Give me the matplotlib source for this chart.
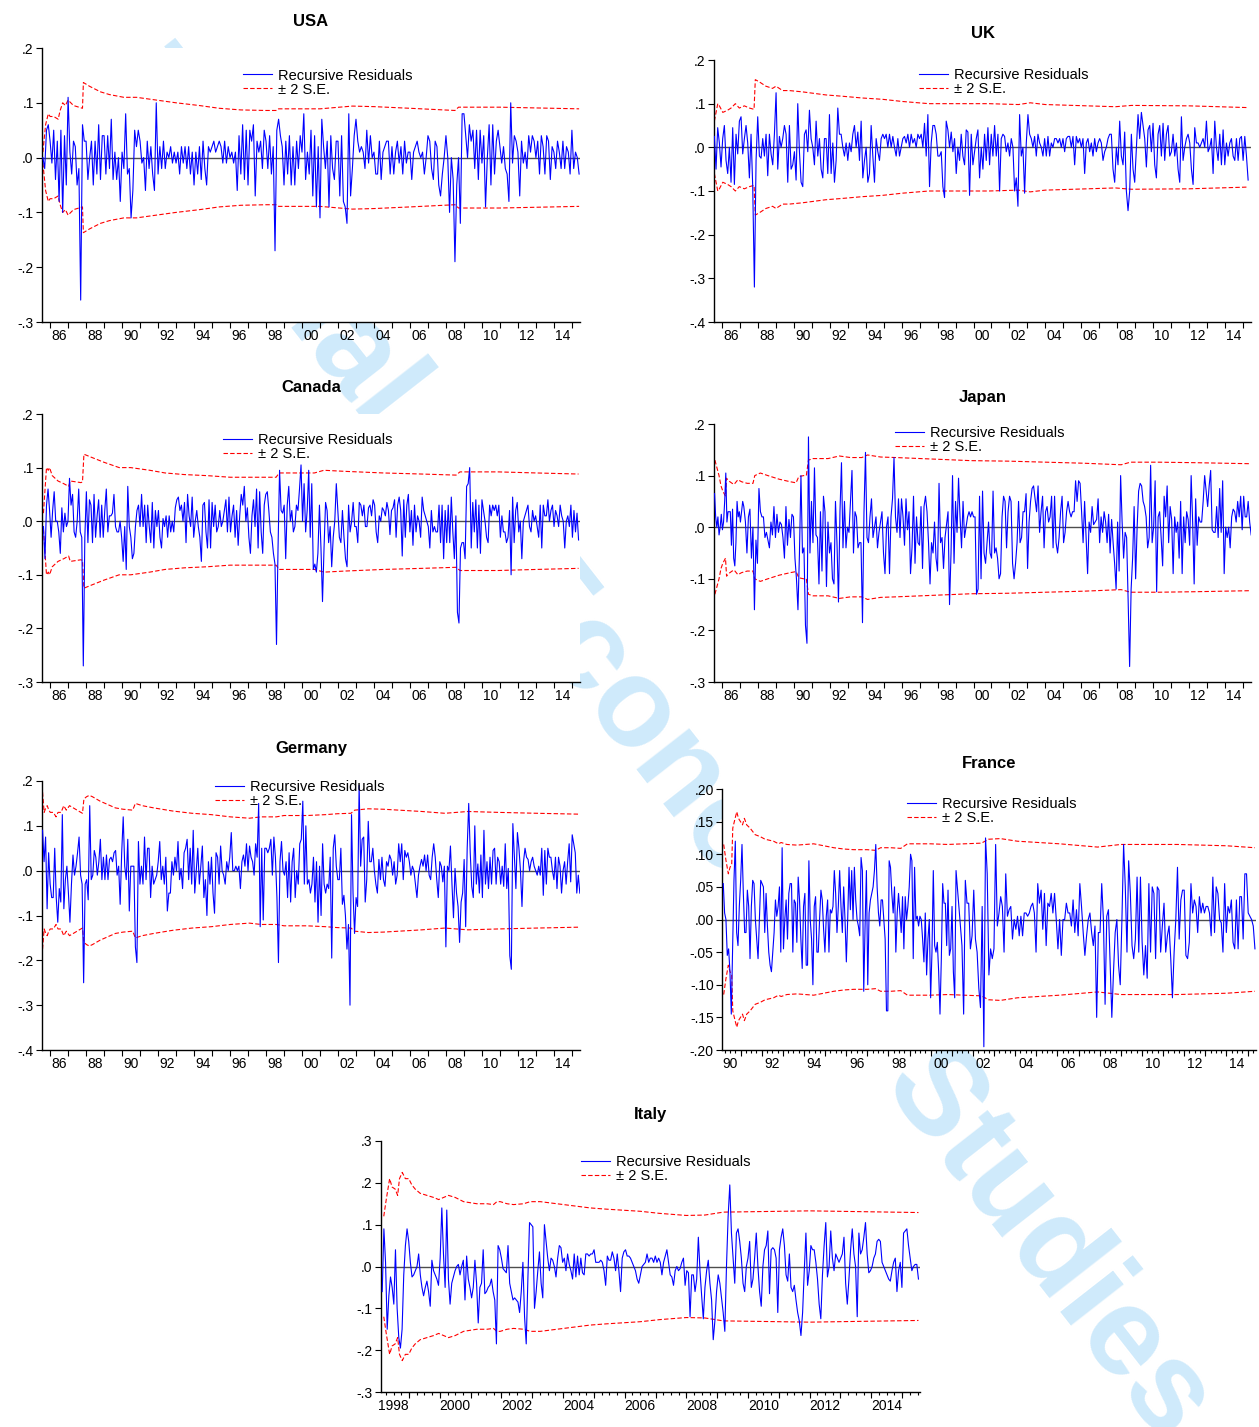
import numpy as np
import matplotlib.pyplot as plt
from matplotlib.lines import Line2D

plt.rcParams['font.family'] = ['Liberation Sans', 'DejaVu Sans']

# ---------------------------------------------------------------------------
# data: recursive residuals and upper +2 S.E. band, both in hundredths
# (lower band is the mirror image). Residuals are equally spaced in time
# between the two dates of each span.
# ---------------------------------------------------------------------------
usa_span = (1985.6, 2015.4)
usa_resid = [
    0, -2, 5, 6,
    3, -1, 5, -4, 3, -8, 5, -10, 4, -5,      # 1986
    11, 1, -3, 3, 2, -5, -2, -26, 6, 3,      # 1987
    3, -4, 0, 3, -5, 3, -3, 6, -4, 4,
    4, -3, 4, -2, 7, -4, 1, -4, 0, -8,
    1, -2, 8, -3, -2, -11, -6, 5, 2, 5,      # 1990
    3, -1, 0, -6, 3, -2, 2, -3, -6, 10,
    -3, 2, -2, 3, -2, 1, 0, 2, -1, 1,
    -1, 1, -3, 2, -1, 2, -2, 2, -3, 1,
    -5, 1, -3, 2, -4, 3, -2, -5, 2, 1,
    2, 3, 1, 2, 3, 2, -1, 3, -1, 2,          # 1995
    0, 1, -1, 1, -6, 4, -3, 6, -4, 5,
    -5, 5, 3, 6, -7, 3, 1, 3, -2, 5,
    3, -2, 4, -3, 2, -17, 5, 7, 4, 2,
    -5, 3, -3, 4, -5, 2, -5, 3, -2, 4,
    1, 8, -4, 1, -3, 5, -7, 4, -9, 2,        # 2000
    -11, 7, 2, -2, 3, -9, 4, -2, -4, 3,
    3, -7, 4, -8, -9, -12, 8, -7, -2, 4,
    7, 3, 1, 2, 1, -2, 5, -1, 4, 0,
    1, -3, -3, 3, -4, 1, 2, 3, 3, -3,
    2, -3, 1, 3, -1, 2, -3, 3, -1, 1,        # 2005
    1, -4, 1, 2, 3, 1, 0, 1, -3, 0,
    4, 3, -2, -4, 3, 2, -5, -7, -3, 0,
    4, 0, -10, 0, -4, -19, -5, 0, -12, 8,
    8, 4, 0, 6, 3, 5, -2, 5, -4, 5,
    -1, 4, -9, 0, 6, -5, 6, -3, 3, 5,        # 2010
    2, -1, 2, -2, -3, -8, 10, -1, 4, 3,
    1, -7, 3, -1, 1, -2, 4, 1, 4, 3,
    0, 3, -3, 4, 2, -3, 4, 3, -4, 2,
    1, -2, 3, 1, -2, 3, -2, 2, 1, -3,
    5, -2, 1, 0, -3,
]
usa_band_t = [1985.6, 1985.75, 1985.9, 1986.0, 1986.2, 1986.45, 1986.55, 1986.7,
              1986.85, 1987.0, 1987.3, 1987.8, 1987.85, 1988.2, 1988.8, 1989.3,
              1990.1, 1990.8, 1991.9, 1993.0, 1994.3, 1995.4, 1996.6, 1998.0,
              1998.6, 1998.7, 2001.0, 2002.8, 2004.0, 2006.0, 2008.5, 2008.7,
              2011.0, 2015.4]
usa_band = [1, 6, 8, 7.5, 7.5, 7, 8.5, 10, 9.5, 10.5, 9.5, 9, 13.7, 13, 12, 11.5,
            11, 11, 10.5, 10, 9.5, 9, 8.7, 8.6, 8.6, 8.9, 8.9, 9.4, 9.3, 9, 8.6,
            9.2, 9.2, 8.9]

uk_span = (1985.57, 2015.29)
uk_resid = [
    2.5, -5, 4.5, 1, -4.5, 2, 5, -3, -6, 0, -8, 4.5, -8.5, 3, -1.5, 6, 7, -1.5,
    2, 5, 1, -7, 3, -9, -32, -3, 7, -2, -2.5, 2, -2, 3, -6.5, 3, -1.5, -4, 3,
    12.5, -5, 2.5, 0, 2, 5, 3, -8, 5, -5, -4, -1, -7.5, 10, -1, -8, -9, 3, 4,
    -1, 8.5, 2, 0, -4, 6, -2, 2, -5, -7, 2, 2, -6, 7.5, -6, 1, -8, -3, 9, 3, 3,
    0, -2, 1, -3, 1, -1, 3, 5, 0, 3.5, -3, 6, -7, -3, 0, -8, -6, 5, -2, -8, 2,
    -1, -3, 2, 3, 2, 3, 0, 3, 0, 2.5, 0, -2, 2, -2, 0, 2, 2.5, 1, 3, 0, 3, 1,
    2, 0, 3, 2, 3, 0, 5.5, -2, 7.5, -9, 1, 5, 5, 3, -2, -2, -1, -9, -11.5, 6,
    4, 0, 3.5, -1, 2, -6, 0, -3, 3, -2, -4, 4, 3.5, -11, 3, -4, -1, 2, 4, -7,
    0, -5, 3, -3,
    4.5, -4, 3, -2, 5, -2, 3, -10, 2, 3, 2.5, -1, 1, -2, 2, 0, -10, -7, -13.5,
    7.5, -2, 0, -10.5, 1, 7.5, 3, 2, 0, 2.5, -2, 3, 1, 0, -2, 2, -2, 2.5, -2,
    1, 0, 2, 2, 1, 2, 0, 2, -1, 2, 2.5, 2.5, 0, 2.5, -4, 2.5, 1, 2, 0, 2, -6,
    1, 2, -1, 1, -2, 2, -1, 1, 2, 1, -3, -1, 0, 2, 3, 3, -5, -8, 0, -4, 6, -2,
    -4, 3.5, -10, -14.5, -10, 3, -5, -8, 0, 7.5, 2, 8, 5, 2, -4.5, 4, 5, -1,
    5.5, -4, -7, 3, 5, -2, 5.5, -3, 3, 5, -2, -1, 3, -2, 1, -5, -8, 7, -3, 0,
    2, 3, 1, -5, -8.5, 4.5, 1, 1, 0, 1, 2, 0, 6, -1, 0, 2, -6, 6, 0, -3, 3, -4,
    4, -4, 1, -2, 1, 2, -2, -3, 2, -3, 2, 2.5, -3, 2.5, -2, -7.5,
]
uk_band_t = [1985.57, 1985.76, 1985.85, 1986.04, 1986.31, 1986.5, 1986.74, 1986.96,
             1987.24, 1987.52, 1987.78, 1987.85, 1988.07, 1988.44, 1988.81, 1989.0,
             1989.37, 1989.74, 1990.48, 1991.78, 1992.7, 1993.8, 1994.93, 1996.04,
             1997.52, 1998.81, 2000.85, 2002.5, 2003.16, 2004.0, 2007.9, 2008.8,
             2012.0, 2015.29]
uk_band = [6, 10, 9.5, 8, 8.5, 9, 10, 9, 9.5, 9, 8.7, 15.5, 15, 14, 13.5, 14, 13,
           13, 12.7, 12, 11.7, 11.3, 11, 10.5, 10, 10, 10, 9.8, 10.2, 9.8, 9.3, 9.6,
           9.5, 9.1]

canada_span = (1985.63, 2015.37)
canada_resid = [
    -1, -7, 3, 6, 2, -3, 2, 5.5, 0, 0, -2, -6, 2.5, -2, 1.5, -1, 0, 8, 3, 5, -2,
    -3, 0, 6, -2, -3, -27, -3, 5.5, -4, 4, 3, -4, 5, -3, 1, 4, -3, 3, -3, 2, 6,
    -2, 1, 1, 1.5, 5, -1, -2, -2, 0, -3, -7.5, -1, -9, 6.5, -1, -3, -7, -6, -1,
    2, 3, -1, 5, -1, 3, -4, 3, -1, -4, 3.5, -5, 2, -1, 2, -3, -5, 0.5, -1, 1,
    -3, 1, -2, 0, -2, 2.5, 4, 4.5, 2, 3, 0, 3.5, -4, 5, 1, -1, 4.5, -3, 0, 2,
    -1, -3, -7.5, 3, 3.5, -2, -5, 4, -5, 3.5, -1, 3, -2, -1, 2, -1, 0, 2, 4, -2,
    4.5, -2, 1, 3, -3, 2, -4.5, 1, 5, 3, 6.5, 0, 2.5, -3, -6, 1, 4, -1, 6, -5,
    5.5, -2, -6, 3, 5, 5.5, 2, -2, -3, -6, -8, -23, -5, 9.5, 2, 1.5, 3, -7, 3,
    6.5, 0, 2, -2, -1, 3, 2, 6, 10.5, 0, 7, -2, 2, 9.5, -3, 7, -9, -8, -9.5, -6,
    3, -5, -15, -5, 3.5, 2, -4, -1, -8.5, -3, 0, 7, 2, -3, -4, 2, -3, -7, -8.5,
    3, -2, 0, 3.5, -1, -1, -4, 3.5, 3, 1, 3, -1, -1, 2.5, 3, 1, 4, 3, -2, -4, 1,
    0, 2.5, 2, 1, 3.5, 2, -2.5, 2, 2.5, 4, -3, 3, 4.5, 2, -6.5, 4, -3, 3, 5, -2,
    2, -4.5, 3, -2, 1, 0, -3, 4.5, 2, 1, 0, -1, -5, 2, -2, -1, -2, -2, 3, -4, 3,
    -7, 2, -4, 3, -4, 4.5, -2, -7, 1, -17, -19, -5, -4, -4, -7, 6.5, 7, 10, -5,
    3.5, -2, 4, -5, 3, -6, 4, 2, 0, -3, -4, 3, 1, 3, 2, 3, 1, 3, -3, 1, -2, -2,
    -4, -3, 2, -10, 4.5, -4, 2, 3.5, -2, 0, -7, 0, 1, 2, 3, -1, -2, 2, 0, 1, -1,
    -3, 3, -5, 3, 1, 1, 4, 0, 2, 3, -1, 2, 1, -1, 3, 1, 0, -5, 0, 1, -1, 3, -3,
    2, -2, 1.5, -3.5,
]
canada_band_t = [1985.63, 1985.8, 1985.9, 1985.97, 1986.12, 1986.44, 1986.76, 1987.03,
                 1987.12, 1987.71, 1987.80, 1987.88, 1988.24, 1988.99, 1989.84,
                 1990.48, 1991.54, 1992.39, 1993.46, 1994.73, 1996.01, 1997.29,
                 1998.56, 1998.73, 2000.27, 2000.69, 2001.22, 2002.39, 2004.52,
                 2006.65, 2008.56, 2008.78, 2010.9, 2013.03, 2015.37]
canada_band = [1.5, 10, 9.5, 10, 8.5, 7.5, 7, 6.5, 7.5, 7.2, 7.3, 12.5, 12, 11, 10,
               10, 9.5, 9, 8.7, 8.5, 8.2, 8.2, 8.2, 9, 9, 9, 9.5, 9.3, 9, 8.8, 8.6,
               9.2, 9.2, 9, 8.8]

japan_span_a = (1985.58, 1987.21)
japan_resid_a = [6.5, 2, 0, 2, -1.5, 0, 2.5, -0.5, 1, 5, 10.5, 1, 3, 3, 3, -3.5,
                 3.5, -6, -7.5, -3, 5, 2, 3, 1, 3, 5, 4]
japan_span_b = (1987.30, 2015.46)
japan_resid_b = [
    1, -5, 2, 3.5, -6, 0, -16, -2.5, -7, 7.5, 3, 2, 2, -2, -1, -2.5, -4, 1, -1.5,
    4, -2, 2.5, -1, 1, 0.5, -2, -6, 4, -3.5, 1.5, -2, 2.5, 2, -6, -10, -16, -5,
    10, -5, -4, -19, -22.5, 17.5, -5, 5, -3, 11.5, -1.5, -2, -11, 3, -8.5, 6, 3,
    -11.5, 1, -5, -3, -10, -11, 5, -3, -14.5, 3, 12.5, -4, 5, -4, 0, -1, 5, 11,
    -5, 3, 2, -4, -3, -3, -18.5, 3, 14.5, -2, -3, 2, 5.5, -2, 0, 2, -4, -1, 1,
    3, -5, -9, 0, 2, -9, 2, 5.5, 13.5, 2, -1, 5.5, -2, 5.5, 2, -3.5, 5.5, -0.5,
    3, -9, -4, 6, -7, 2, -3, -3.5, 4, -8, 4, 6, 3, -3, -11, -3, -5, 1, -6, -8.5,
    8.5, -3, -2, -8, -2, 0.5, 3, -15, -5, 10, -7, 5, -1, 9.5, 2, -4, 5, -2, 0,
    2, 3, 2, 3, 2, 2, -13, -12, 6, -10, 7, -5, -7, -3, 1, -5, -6, 7, -5, -4, -6,
    -10, -9, 2, 6, 5, -4, 3, 6, 5, -7, -10, -7, -3, 5, -3, -2, 3, 3, 6.5, -8, 1,
    5, 7.5, 8, 5.5, 3, 8, -1, 3, 6, -4, 3, 4, 1, 2, 6, -4, 6, -3, -5, -2, 3, 6,
    -3, -1, 3, 5, 3, 2, 3, 3, 9, 5, 9, 8.5, 3, -3, 5, -2, -9, 1, -1, 4, 0.5, 1,
    1.5, 5.5, -3, 2, -1, 3, 1, -3, 2.5, -5, 1.5, -3, -7, -12, 1, -8.5, 10, 1,
    -6, -1, -2, -14, -27, -12, -6, 4, -10, 0, 7, 8.5, 8, 5, 4, 2, -4, -2, 12,
    -3, 0, 9, -12.5, 2, 3, -2, -7.5, 6, 2, 8, -3, 4, 1.5, -9, 2, -1, 1, -6, 5,
    -9, 2, -3, 3, 1.5, -3.5, 10, 1, -11, 5.5, -3.5, 2, 1, 1, 5, 10, 7, 4, 8, 11,
    -0.5, -1, -1, 4, -2, 7.5, -1, 9, -9, 0, -2, 0, -4, 2, 3.5, 3, 1, 5, 2, 6,
    -0.5, 6, 2, 2, 5, 1, -1.5,
]
japan_band_t = [1985.6, 1985.83, 1985.94, 1986.04, 1986.19, 1986.25, 1986.36, 1986.56,
                1986.67, 1986.88, 1987.09, 1987.40, 1987.72, 1987.82, 1988.13,
                1988.55, 1989.18, 1989.81, 1990.12, 1990.27, 1990.54, 1990.69,
                1990.81, 1991.06, 1991.90, 1992.53, 1993.15, 1993.78, 1994.10,
                1994.83, 1995.67, 1997.76, 1999.85, 2001.94, 2004.03, 2006.13,
                2008.22, 2008.74, 2010.31, 2012.40, 2015.46]
japan_band = [13, 10, 8, 7, 6, 9.5, 9, 8.5, 8.3, 9.2, 8.8, 8.5, 8.5, 10, 10.5, 10,
              9.3, 8.8, 8.6, 9.8, 10, 10, 13, 13.3, 13.3, 13.8, 13.5, 13.5, 14,
              13.6, 13.5, 13.2, 12.9, 12.8, 12.6, 12.4, 12.1, 12.6, 12.6, 12.5, 12.3]

germany_span = (1985.58, 2015.44)
germany_resid = [
    9, 2, 7.5, -8.5, 4, -3, -6, -6, 5, -6, -11.5, -4, -7, 12.5, -8.5, -2, 1, -5,
    -11.5, -3, 3.5, -1, 1, 4, 7.5, -1, -3, -25, -3, -2, -6.5, 14.5, -2, -1, 4.5,
    3, -1, 2, 7, -2, 3, -2, 3.5, -2, 2.5, 3, 2, 4, 4.5, -1, 1, -7.5, 4, 12, 1,
    -2, 7, -9, 1, 1, 1, -17, -20.5, 6.5, -3, 1, -3, 7.5, -2, 5, 5, -6, 1, -3, -2,
    -1, 2, 6.5, -2, 1, -3, 3, -9, -5, -5, 2, -1, 3, 0, 6.5, -2, 0.5, -4, 4, 5, 7,
    -2, 5, -3, 9, -5, 0, 5, -3, 1, 5.5, -6, -2, -10, 2, -3, 3, -5, -9.5, 4, 3,
    -3, 5.5, 0, -1, -3, 2, 0, 3, 8.5, 0, 0, 1, 0, 1, -4, 2, 3.5, 1, 6, 0, 5.5, 3,
    2, -1, 6, 3, 15, -12.5, 5, -11, 5, 5, 4, 5, 7, -1, 7.5, 3, -6, -20.5, 2, 6.5,
    0, -1, 2, -6, 4, -7, 2, 5, -6, 0, -3, 6, 7, 15.5, -3, 10, -3, -2, -5, -3, 3,
    -7, 2, -11.5, 1, -10, 6, -3, -5, -3, -4, 3, -19.5, 5, 8, 1, -2, -2, 5, -7.5,
    -5.5, -10, -17.5, -12, -30, 12.5, -5, -14, -6, -8, 19, 1, 7, 7.5, -7, -2, 11,
    2, 2, 5, 0, -3, -5, 2.5, -2, 3, -2, -3.5, 2, 1, 3.5, 2.5, -1, 2, -3, -1, 6,
    2, 6, -2, 4.5, 3, 4, 2, -1, 1, 0, -3, -6, -1, 1, 2.5, 1, 3.5, 0, 3.5, -1, -2,
    3, 6, 3, -2, -6, 2, 1, -2.5, 1, -17, 1, 0, 5.5, -3, -10.5, 0.5, -5, -8, -16,
    -7, -5, 2.5, -12.5, 5, 15, 4, -3.5, -6, 10, -3, 1.5, -5, 3.5, -6, 9, -3, 2,
    -4, 3, -3, 4.5, 5, -3, 3, 2, -3, 1, -3.5, 6, -4, 0.5, -19, -22, 10.5, 3, -4,
    8.5, 5, 0, -8, 2, 5, 3, 2.5, 0, 2, 3, 1, 0, -1, 1, -1, 5, -5.5, 4.5, -3, 5,
    3, 3, 0, -2, 3, -4, 3, 1, -5, 0, 2, -3, 2, 6, -2.5, 8, 6, 4, -5, -1, -5,
]
germany_band_t = [1985.58, 1985.67, 1985.76, 1985.84, 1985.93, 1986.01, 1986.18,
                  1986.33, 1986.44, 1986.61, 1986.76, 1986.9, 1987.08, 1987.29,
                  1987.5, 1987.71, 1987.8, 1987.88, 1988.03, 1988.18, 1988.35,
                  1988.78, 1989.63, 1990.06, 1990.59, 1990.74, 1991.12, 1991.76,
                  1992.82, 1993.89, 1994.95, 1996.02, 1997.08, 1997.72, 1998.57,
                  1999.0, 2000.27, 2001.33, 2001.97, 2002.72, 2002.93, 2003.68,
                  2004.53, 2006.66, 2007.94, 2009.22, 2010.92, 2013.05, 2015.44]
germany_band = [17.5, 13, 14, 14.5, 13.5, 13, 13, 12, 13, 13, 14.5, 13.5, 14.5, 14,
                13.5, 13, 12.8, 16, 16.5, 16.8, 16.5, 15.5, 14, 13.7, 13.5, 15,
                14.5, 14, 13.3, 12.8, 12.5, 12, 11.7, 12, 12, 12.3, 12.3, 12.5, 12.7,
                12.8, 13.5, 13.8, 13.7, 13.2, 12.8, 13.2, 13, 12.8, 12.6]

france_span_a = (1990.18, 2001.2)
france_resid_a = [
    5.5, 1, 0, -5.5, -4.5, -8, -14.5, -4, 6, 12, -2, -4, 2, 6, 11.5, 4, -2, -2,
    4.5, 2, -6, 2, 6, 5.5, 0, -3, -6, 0, 6, 5.5, 5, -2, 4, -1, -5, -7, -8, -5,
    -2, 3, 0.5, 2, 5, -5, 11, -4.5, 0, 3, -3, 4, 5.5, 5.5, -5, 3, 2.5, -3.5,
    6.5, 3, -3, -7.5, 2, 4, -7, -7, 9, 0, -3, -10, 2, 3.5, -5, -5, 0, 4.5, 3,
    -1.5, -5, 0.5, 3, -5, 1.5, 1, 2, 7.5, 4, -2, 2, 7.5, 2, -2, 5, 0, -6.5, 0,
    8, 1.5, 7.5, 0, 8, 3, 0, -1, -2.5, 9.5, 7.5, -11, -1, 7.5, -10, 1, 3, 4, 5,
    7.5, 11.5, 5, 1, -1, 3, 3, 0, -3, -14, -14, 9, 8, 4, 1, 5, -5, 1, 4, 1, -2,
    3.5, -4.5, 3.5, 0, 2, 5, 10, 9, -6, 8, 0, 0.5, -1, 0.5, 0, -3, -6.5, 1, -8.5,
    -3, 0, -12, -5, 7.5, -4, -5, -3.5, -8, -14.5, -6, 5.5, 2.5, 2.5, -4, 4.5,
    -5.5, -4.5, 2, -8, -12, 7.5,
]
france_span_b = (2001.48, 2015.35)
france_resid_b = [
    -4, -14.5, 6, 2.5, 2.5, -4.5, -2.5, 4.5, -3, -5, -10.5, -13.5, 2, -19.5,
    12.5, 7, -8.5, -4.5, -6, -4.5, 11.5, -1, 1, 3.5, 2, -5, 7, 0.5, 1.5, 2, -3,
    0, -1.5, 0.5, -2.5, 0.5, -2.5, 1, 1, 0.5, 1, 2, 2.5, 1, -5, 5.5, 2.5, 4.5,
    -1.5, 4, -4, 2.5, 2, 4, 1, 4, 0, -4.5, 0, -5.5, 0, 0, 2.5, 1, 1, -1, 3, -2,
    1.5, -2.5, 5.5, 2, -2, -5.5, -2.5, 0, 1, -2, -4, -1, -15, -2, -2, 5.5, 0,
    -13, 0.5, 1.5, -7, -15, -8, -2, 0, -7, -10, 0, 11.5, 5, -5, 9, 4, -4, -6,
    -3, 6.5, -5, 6.5, -3.5, -8.5, -4, -9, 5.5, -5, 5, 4, -6, 5, 4.5, -5, -1,
    2.5, -5, -2.5, -1, -6, -12, -5, 0, 8, -3, 3, 4.5, 4.5, -5.5, -6, -3.5, 5.5,
    1, 3, 2, -2, 3.5, 1, 2.5, 1, 2, 2, 1, -2.5, 6.5, -2, 5, 4, 0, -0.5, -5, 5.5,
    -2, 2, 1, 3, -3.5, -4.5, 3, -4.5, 3.5, 3.5, -3, 7, 7, 1, 0.5, 0, -1, -4.5,
]
france_band_t = [1990.2, 1990.31, 1990.42, 1990.5, 1990.58, 1990.63, 1990.74, 1990.82,
                 1990.9, 1991.09, 1991.18, 1991.29, 1991.45, 1991.69, 1991.93,
                 1992.16, 1992.56, 1992.80, 1992.92, 1993.19, 1993.67, 1994.46,
                 1994.94, 1995.41, 1995.89, 1996.36, 1996.99, 1997.39, 1997.63,
                 1998.11, 1998.58, 1998.90, 1999.99, 2000.80, 2001.59, 2002.4,
                 2002.74, 2003.3, 2004.1, 2006.1, 2007.9, 2009.0, 2011.7, 2014.0,
                 2015.35]
france_band = [11.5, 9, 7, 8, 8.5, 14, 15.5, 16.5, 15.5, 14.5, 15.5, 14.5, 14, 13,
               12.7, 12.3, 12, 11.6, 11.8, 11.5, 11.4, 11.6, 11.3, 11, 10.8, 10.7,
               10.7, 10.6, 11, 11, 10.9, 11.6, 11.6, 11.5, 11.6, 11.7, 12.3, 12.4,
               12.0, 11.6, 11.1, 11.5, 11.5, 11.3, 11.0]

italy_span = (1998.13, 2015.53)
italy_resid = [
    -6, 9, 1, -15, -7, -2.5, -5, -9, 4, -10, -17, -19.5, -15, -2, 5, 9, 6, 1,
    -2.5, -2, -1, 0, 3, -2, -5, -7, -5, -3.5, -6, -9.5, 1.5, -1, -2, -3, -4.5, 2,
    14, 3, -5, 13.5, -3, -9, -4, -2.5, -1, 0, 0.5, -2, 0, 1.5, -8, 2.5, -3, -5,
    -7.5, -5, 1.5, -4, -13.5, -5, -4, 4, -6.5, -6, -5, -4.5, -3, -6, -8, -18.5,
    5, 4, 2, -0.5, -1, -1.5, 5, -4, -6, -8, -7.5, -8, -8.5, -11, -6, 1, -12,
    -18.5, -3, 10.5, 10, 9.5, -10, -6, -1, 3.5, -4, -7.5, 10, 6, 2, -1, 2, 1.5,
    0, -2.5, 2, 5, 4.5, 1, 2, -1, 3, 0.5, -1, -3, 3, -2.5, 2.5, -2, 2, -1.5, -2,
    3, 3, 2.5, 3, 3, 4, 1, 1, 1, 1.5, 1, -1, -4.5, 2.5, 1.5, 1.5, 3.5, 2, -1, 3,
    -1, -6, 2, 3.5, 4, 2.5, 2.5, 2, 1, 0, -1, -3, -4, -2, 0, 0.5, 1, 3, 1, 2, 2,
    1, 2.5, 1, 2, 1, -2,
    1, 2.5, 4, 1, -2, -2.5, -4.5, -1, 0, -1, -0.5, 1, 2, -4.5, -1, -1.5, -12, -2,
    -2, -6, -3, 7, -1, -7, -12.5, -5, -1, 1.5, -4, -8, -17.5, -13, -6, -2, -4,
    -7.5, -11, -15.5, 0, 12, 19.5, 8, 2, -4, 8, 9, 6, 2, -4, -6, 0, 2, 6, -5,
    -3, 2, 8, 0, -6, -9.5, 0, 4, 5, 8.5, -6.5, 4, 4.5, 4, 2, -11, 4, 7, 9, 5,
    -2, -3.5, 3, -5, -6, -4.5, -8, -11, -13, -16.5, -11, -1, 8, -4.5, -1, 5, 4,
    4, 1, -3, -9, -12.5, -2, 5, 10.5, -2.5, 0, 8.5, 2, -1, 3, 2, 1, 2, 3, 7, -4,
    -9, -3, 4, 9, 3, 0, -12, 8, 3, 4, 7, 10.5, 3, -1.5, -1, 0, 2, 3, 6, 6.5, 6,
    1, 0, -1, -2, -3, -3.5, -1, 1, 2, -6, -1, 1, -5, 8, 8.5, 9, 5, 2, -1, 0, 0.5,
    0.5, -3,
]
italy_band_t = [1998.18, 1998.26, 1998.37, 1998.45, 1998.55, 1998.63, 1998.69,
                1998.78, 1998.88, 1998.99, 1999.09, 1999.2, 1999.36, 1999.58,
                1999.8, 1999.96, 2000.12, 2000.28, 2000.5, 2000.77, 2001.2, 2001.53,
                2001.74, 2001.85, 2001.96, 2002.18, 2002.39, 2002.72, 2002.93,
                2003.26, 2003.8, 2004.34, 2004.88, 2005.42, 2006.5, 2007.13, 2008.0,
                2008.6, 2009.2, 2012.0, 2015.53]
italy_band = [12, 16, 21, 19, 18.5, 17, 21, 22.5, 21, 21, 19.5, 18.5, 17.5, 17,
              16.5, 16, 16.5, 17, 16.5, 15.5, 15, 15, 14.8, 15.5, 15.5, 15, 14.8,
              15, 15.5, 15.5, 15, 14.5, 14, 13.7, 13.2, 12.7, 12.2, 12.3, 13.0,
              13.3, 12.9]

# tick labels
ticks_1dec_3 = [-.3, -.2, -.1, 0, .1, .2]
labels_1dec_3 = ['-.3', '-.2', '-.1', '.0', '.1', '.2']
ticks_1dec_4 = [-.4, -.3, -.2, -.1, 0, .1, .2]
labels_1dec_4 = ['-.4', '-.3', '-.2', '-.1', '.0', '.1', '.2']
ticks_france = [-.20, -.15, -.10, -.05, 0, .05, .10, .15, .20]
labels_france = ['-.20', '-.15', '-.10', '-.05', '.00', '.05', '.10', '.15', '.20']
ticks_italy = [-.3, -.2, -.1, 0, .1, .2, .3]
labels_italy = ['-.3', '-.2', '-.1', '.0', '.1', '.2', '.3']

years_86 = list(range(1986, 2015, 2))
years_90 = list(range(1990, 2015, 2))
years_98 = list(range(1998, 2015, 2))
short_86 = ['86', '88', '90', '92', '94', '96', '98', '00', '02', '04', '06', '08',
            '10', '12', '14']
short_90 = ['90', '92', '94', '96', '98', '00', '02', '04', '06', '08', '10', '12',
            '14']
long_98 = ['1998', '2000', '2002', '2004', '2006', '2008', '2010', '2012', '2014']

BLUE = '#0000ff'
RED = '#ff0000'
W, H = 1259, 1427


def build(*chunks):
    xs, ys = [], []
    for span, vals in chunks:
        xs.append(np.linspace(span[0], span[1], len(vals)))
        ys.append(np.asarray(vals, dtype=float) / 100.0)
    return np.concatenate(xs), np.concatenate(ys)


def panel(fig, box, title, pad, xy, band_t, band, xlim, ylim, yt, ytl,
          lab_years, lab_text, quarterly, leg_xy):
    l, t, r, b = box
    ax = fig.add_axes([l / W, 1 - b / H, (r - l) / W, (b - t) / H])
    ax.set_facecolor('white')

    x, y = xy
    bt = np.asarray(band_t)
    bv = np.asarray(band, dtype=float) / 100.0
    ax.axhline(0, color='#4d4d4d', lw=1.0, zorder=1)
    ax.plot(x, y, color=BLUE, lw=0.8, zorder=3)
    ax.plot(bt, bv, color=RED, lw=0.8, ls=(0, (4, 2)), zorder=2)
    ax.plot(bt, -bv, color=RED, lw=0.8, ls=(0, (4, 2)), zorder=2)

    ax.set_xlim(*xlim)
    ax.set_ylim(*ylim)
    for s in ['top', 'right']:
        ax.spines[s].set_visible(False)
    for s in ['left', 'bottom']:
        ax.spines[s].set_linewidth(1.0)

    ax.set_yticks(yt)
    ax.set_yticklabels(ytl)
    ax.tick_params(axis='y', direction='out', length=4, width=0.8, pad=2,
                   labelsize=10)

    majors = np.arange(np.ceil(xlim[0]), np.floor(xlim[1]) + 1)
    ax.set_xticks(majors)
    ax.set_xticklabels([])
    ax.set_xticks(np.asarray(lab_years) + 0.5, minor=True)
    ax.set_xticklabels(lab_text, minor=True)
    ax.tick_params(axis='x', which='major', direction='out', length=4, width=0.8)
    ax.tick_params(axis='x', which='minor', length=0, pad=5, labelsize=10)
    if quarterly:
        q = np.arange(np.ceil(xlim[0] * 4) / 4, xlim[1], 0.25)
        sec = ax.secondary_xaxis('bottom')
        sec.set_xticks(q)
        sec.set_xticklabels([])
        sec.tick_params(direction='out', length=2.5, width=0.8)
        sec.spines['bottom'].set_visible(False)

    ax.set_title(title, fontsize=12, fontweight='bold', pad=pad)

    handles = [Line2D([], [], color=BLUE, lw=0.8),
               Line2D([], [], color=RED, lw=0.8, ls=(0, (4, 2)))]
    ax.legend(handles, ['Recursive Residuals', '\u00b1 2 S.E.'], loc='upper left',
              bbox_to_anchor=leg_xy, frameon=False, fontsize=10.5, borderpad=0,
              borderaxespad=0, handlelength=2.0, handletextpad=0.4,
              labelspacing=0.0)
    return ax


fig = plt.figure(figsize=(W / 100, H / 100), dpi=100)
fig.patch.set_facecolor('white')

# faint watermark behind the panels
fig.text(90 / W, 1 - 70 / H, 'Journal of Economic Studies', fontsize=91,
         fontweight='bold', color='#cfeafb', rotation=-52, rotation_mode='anchor',
         ha='left', va='baseline', zorder=-1)

x86 = (1985.55, 2015.45)

panel(fig, (42, 48, 580, 322), 'USA', 16, build((usa_span, usa_resid)),
      usa_band_t, usa_band, x86, (-0.3, 0.2), ticks_1dec_3, labels_1dec_3,
      years_86, short_86, False, (0.374, 0.925))

panel(fig, (714, 60, 1251, 322), 'UK', 16, build((uk_span, uk_resid)),
      uk_band_t, uk_band, x86, (-0.4, 0.2), ticks_1dec_4, labels_1dec_4,
      years_86, short_86, False, (0.381, 0.968))

panel(fig, (42, 414, 580, 682), 'Canada', 16, build((canada_span, canada_resid)),
      canada_band_t, canada_band, x86, (-0.3, 0.2), ticks_1dec_3, labels_1dec_3,
      years_86, short_86, False, (0.336, 0.93))

panel(fig, (714, 424, 1251, 682), 'Japan', 16,
      build((japan_span_a, japan_resid_a), (japan_span_b, japan_resid_b)),
      japan_band_t, japan_band, x86, (-0.3, 0.2), ticks_1dec_3, labels_1dec_3,
      years_86, short_86, False, (0.337, 0.993))

panel(fig, (42, 781, 580, 1050), 'Germany', 20, build((germany_span, germany_resid)),
      germany_band_t, germany_band, x86, (-0.4, 0.2), ticks_1dec_4, labels_1dec_4,
      years_86, short_86, False, (0.322, 1.003))

panel(fig, (722, 789, 1256, 1050), 'France', 15,
      build((france_span_a, france_resid_a), (france_span_b, france_resid_b)),
      france_band_t, france_band, (1990.12, 2015.4), (-0.2, 0.2), ticks_france,
      labels_france, years_90, short_90, True, (0.346, 0.968))

panel(fig, (381, 1141, 920, 1392), 'Italy', 16, build((italy_span, italy_resid)),
      italy_band_t, italy_band, (1998.09, 2015.58), (-0.3, 0.3), ticks_italy,
      labels_italy, years_98, long_98, True, (0.371, 0.945))

fig.savefig('out.png', dpi=100, facecolor='white')
